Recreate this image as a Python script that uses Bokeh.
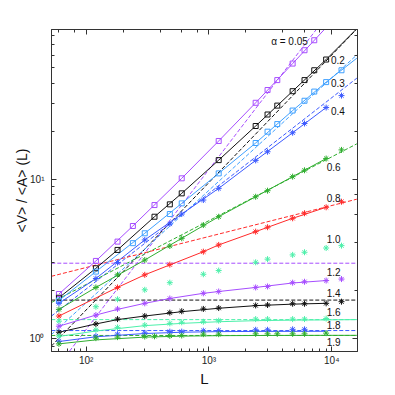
from bokeh.plotting import figure
from bokeh.models import LogAxis, Range1d, LogTicker, CustomJSTickFormatter, ColumnDataSource
from bokeh.core.properties import value
from bokeh.embed import file_html
from bokeh.resources import INLINE

# ---------------- data ----------------
# measured points: L values and <V>/<A>
L_005 = [60, 120, 180, 240, 360, 600, 1200, 2400, 3000, 3600, 4800, 6000, 7200]
V_005 = [1.91, 3.08, 4.07, 5.10, 6.90, 10.15, 17.4, 30.2, 36.3, 41.9, 53.2, 64.5, 74.5]
L_02 = [60, 120, 180, 360, 480, 600, 1200, 2400, 3000, 3600, 4800, 6000, 7200, 9000]
V_02 = [1.81, 2.77, 3.61, 5.83, 6.97, 8.17, 13.2, 21.6, 25.5, 29.0, 35.7, 41.9, 48.3, 56.4]
L_03 = [60, 120, 240, 300, 480, 600, 1200, 2400, 3000, 3600, 4800, 6000, 7200, 9000, 12000]
V_03 = [1.74, 2.64, 3.98, 4.59, 6.06, 7.07, 10.9, 16.9, 19.9, 22.2, 27.0, 31.1, 35.5, 40.7, 48.3]
L_04 = [60, 120, 180, 300, 480, 600, 900, 1200, 2400, 3000, 4800, 6000, 9000, 12000]
V_04 = [1.67, 2.39, 3.01, 4.17, 5.25, 6.06, 7.42, 8.78, 13.15, 14.9, 19.6, 22.4, 28.2, 33.5]
L_06 = [60, 120, 180, 300, 480, 600, 900, 1200, 2400, 3000, 4800, 6000, 9000, 12000]
V_06 = [1.53, 2.10, 2.52, 3.12, 3.82, 4.27, 5.17, 5.83, 7.78, 8.49, 10.4, 11.4, 13.5, 15.3]
L_08 = [60, 180, 300, 480, 900, 1200, 2400, 3000, 4800, 6000, 9000, 12000]
V_08 = [1.39, 2.10, 2.52, 2.92, 3.52, 3.88, 4.70, 5.01, 5.70, 6.13, 6.68, 7.24]
L_10 = [60, 120, 180, 300, 480, 900, 1200, 2400, 3000, 4800, 6000, 9000, 12000]
V_10 = [1.29, 1.59, 1.77, 2.03, 2.25, 2.54, 2.68, 3.02, 3.16, 3.36, 3.49, 3.71, 3.84]
L_12 = [60, 120, 180, 300, 480, 900, 1200, 2400, 3000, 4800, 6000, 9000, 12000]
V_12 = [1.20, 1.41, 1.54, 1.67, 1.79, 1.93, 1.98, 2.10, 2.13, 2.25, 2.28, 2.32, 2.37]
L_14 = [60, 120, 180, 300, 480, 600, 900, 1200, 2400, 3000, 4800, 6000, 9000, 12000]
V_14 = [1.10, 1.24, 1.33, 1.39, 1.46, 1.49, 1.54, 1.56, 1.62, 1.63, 1.66, 1.66, 1.67, 1.71]
L_16 = [60, 120, 180, 300, 480, 600, 900, 1200, 2400, 3000, 4800, 6000, 9000]
V_16 = [1.04, 1.14, 1.18, 1.22, 1.25, 1.27, 1.28, 1.30, 1.33, 1.33, 1.33, 1.33, 1.34]
L_18 = [60, 120, 180, 300, 480, 600, 900, 1200, 2400, 3000, 4800, 6000]
V_18 = [0.965, 1.04, 1.07, 1.09, 1.11, 1.11, 1.125, 1.127, 1.14, 1.14, 1.147, 1.147]
L_19 = [60, 120, 180, 300, 360, 480, 600, 900, 1200, 2400, 3000, 3600, 4800, 6000, 9000]
V_19 = [0.93, 1.01, 1.025, 1.034, 1.037, 1.044, 1.05, 1.07, 1.07, 1.075, 1.075, 1.075, 1.075, 1.075, 1.086]

# fitted curves (solid lines)
FL_005 = [60, 120, 240, 600, 1200, 2400, 4800, 9000]
FV_005 = [1.91, 3.08, 5.10, 10.15, 17.4, 30.2, 53.2, 89.5]
FL_02 = [60, 120, 180, 360, 600, 1200, 2400, 4800, 9000, 16000]
FV_02 = [1.81, 2.77, 3.61, 5.83, 8.17, 13.2, 21.6, 35.7, 56.4, 88.0]
FL_03 = [60, 120, 300, 600, 1200, 2400, 4800, 9000, 16000]
FV_03 = [1.74, 2.64, 4.59, 7.07, 10.9, 16.9, 27.0, 40.7, 57.5]
FL_04 = [60, 120, 300, 600, 1200, 2400, 4800, 9000]
FV_04 = [1.67, 2.39, 4.17, 6.06, 8.78, 13.15, 19.6, 28.2]
FL_06 = [60, 120, 300, 600, 1200, 2400, 4800, 9000]
FV_06 = [1.53, 2.10, 3.12, 4.27, 5.83, 7.78, 10.4, 13.5]
FL_08 = [60, 180, 300, 900, 1200, 2400, 4800, 9000]
FV_08 = [1.39, 2.10, 2.52, 3.52, 3.88, 4.70, 5.70, 6.68]
FL_12 = [60, 120, 180, 300, 480, 900, 1200, 2400, 4800, 9000]
FV_12 = [1.20, 1.41, 1.53, 1.67, 1.79, 1.93, 1.98, 2.10, 2.24, 2.32]
FL_14 = [60, 120, 180, 300, 600, 1200, 2400, 4800, 9000]
FV_14 = [1.10, 1.24, 1.32, 1.39, 1.48, 1.555, 1.615, 1.65, 1.67]
FL_16 = [60, 120, 300, 600, 1200, 2400, 4800, 9000, 16000]
FV_16 = [1.035, 1.12, 1.21, 1.25, 1.28, 1.30, 1.31, 1.315, 1.32]
FL_18 = [60, 120, 300, 600, 1200, 2400, 6000, 9000]
FV_18 = [0.962, 1.03, 1.08, 1.10, 1.11, 1.113, 1.115, 1.115]
FL_19 = [60, 120, 300, 600, 1200, 3000, 9000, 16000]
FV_19 = [0.93, 0.985, 1.025, 1.04, 1.047, 1.05, 1.052, 1.052]

# asymptotic predictions (dashed lines): end points
DL_005 = [52, 16000]
DV_005 = [0.594, 186.6]
DL_02 = [52, 16000]
DV_02 = [0.90, 87.6]
DL_03 = [52, 16000]
DV_03 = [1.062, 60.3]
DL_04 = [52, 16000]
DV_04 = [1.387, 43.1]
DL_06 = [52, 16000]
DV_06 = [1.688, 16.7]
DL_08 = [52, 16000]
DV_08 = [2.466, 7.51]
DL_H = [52, 16000]
DV_12 = [2.98, 2.98]
DV_14 = [1.75, 1.75]
DV_16 = [1.32, 1.32]
DV_18 = [1.127, 1.127]
DV_19 = [1.05, 1.05]

# in-plot labels
LAB_TEXT = ["α = 0.05", "0.2", "0.3", "0.4", "0.6", "0.8", "1.0", "1.2", "1.4", "1.6", "1.8", "1.9"]
LAB_L = [3210, 9860, 9860, 9860, 9100, 9100, 9100, 9100, 9100, 9100, 9100, 9100]
LAB_V = [72.8, 56.1, 40.1, 26.9, 12.0, 7.62, 4.22, 2.62, 1.95, 1.483, 1.224, 0.962]

PURPLE = "#a64dff"
BLACK = "#111111"
LBLUE = "#3fa0ff"
BLUE = "#3c5aff"
GREEN = "#2fae2f"
RED = "#ff2a2a"
AQUA = "#4cf0aa"

series = [
    (L_005, V_005, FL_005, FV_005, DL_005, DV_005, PURPLE, "square"),
    (L_02, V_02, FL_02, FV_02, DL_02, DV_02, BLACK, "square"),
    (L_03, V_03, FL_03, FV_03, DL_03, DV_03, LBLUE, "square"),
    (L_04, V_04, FL_04, FV_04, DL_04, DV_04, BLUE, "asterisk"),
    (L_06, V_06, FL_06, FV_06, DL_06, DV_06, GREEN, "asterisk"),
    (L_08, V_08, FL_08, FV_08, DL_08, DV_08, RED, "asterisk"),
    (L_10, V_10, None, None, None, None, AQUA, "asterisk"),
    (L_12, V_12, FL_12, FV_12, DL_H, DV_12, PURPLE, "asterisk"),
    (L_14, V_14, FL_14, FV_14, DL_H, DV_14, BLACK, "asterisk"),
    (L_16, V_16, FL_16, FV_16, DL_H, DV_16, AQUA, "asterisk"),
    (L_18, V_18, FL_18, FV_18, DL_H, DV_18, BLUE, "asterisk"),
    (L_19, V_19, FL_19, FV_19, DL_H, DV_19, GREEN, "asterisk"),
]

AX = "#333333"
FONT = "Liberation Sans"

p = figure(frame_width=306, frame_height=322, x_axis_type="log", y_axis_type="log",
           x_range=Range1d(52.2, 16200), y_range=Range1d(0.833, 87.0),
           output_backend="svg", toolbar_location=None,
           min_border_left=51, min_border_right=38, min_border_top=29, min_border_bottom=44)
p.grid.visible = False
p.outline_line_color = AX
p.background_fill_color = "white"
p.border_fill_color = "white"

sup_fmt = CustomJSTickFormatter(code="""
const sup = {"0":"\u2070","1":"\u00b9","2":"\u00b2","3":"\u00b3","4":"\u2074","5":"\u2075","-":"\u207b"};
const e = Math.round(Math.log10(tick));
return "10" + String(e).split("").map(c => sup[c]).join("");
""")

def style_axis(ax):
    ax.major_tick_in = 5
    ax.major_tick_out = 0
    ax.minor_tick_in = 3
    ax.minor_tick_out = 0
    ax.axis_line_color = AX
    ax.major_tick_line_color = AX
    ax.minor_tick_line_color = AX
    ax.major_label_text_font = FONT
    ax.major_label_text_font_size = "10px"
    ax.major_label_text_color = "#222222"
    ax.axis_label_text_font = FONT
    ax.axis_label_text_font_style = "normal"
    ax.axis_label_text_color = "#111111"

xa = p.xaxis[0]
ya = p.yaxis[0]
for ax in (xa, ya):
    style_axis(ax)
    ax.formatter = sup_fmt
xa.axis_label = "L"
xa.axis_label_text_font_size = "15px"
xa.major_label_standoff = 3
xa.axis_label_standoff = 1
ya.axis_label = "<V> / <A> (L)"
ya.axis_label_text_font_size = "14px"
ya.major_label_standoff = 7
ya.axis_label_standoff = -4

for loc in ("above", "right"):
    ax = LogAxis(ticker=LogTicker(), formatter=CustomJSTickFormatter(code="return ''"))
    style_axis(ax)
    ax.major_label_text_font_size = "0px"
    ax.major_label_standoff = 0
    p.add_layout(ax, loc)

# dashed predictions first, then fits, then markers
for (L, V, FL, FV, DL, DV, col, mk) in series:
    if DL is not None:
        p.line(DL, DV, line_color=col, line_width=1, line_dash="4 2")
for (L, V, FL, FV, DL, DV, col, mk) in series:
    if FL is not None:
        p.line(FL, FV, line_color=col, line_width=1)
for (L, V, FL, FV, DL, DV, col, mk) in series:
    if mk == "square":
        p.scatter(L, V, marker="square", size=5, fill_color=None, line_color=col, line_width=1)
    else:
        p.scatter(L, V, marker="asterisk", size=6, line_color=col, line_width=1)

lab_src = ColumnDataSource(dict(x=LAB_L, y=LAB_V, t=LAB_TEXT))
p.text(x="x", y="y", text="t", source=lab_src, text_font=value(FONT), text_font_size="10px",
       text_baseline="middle", text_align="left", text_color="#111111")

open("out.html", "w").write(file_html(p, INLINE))
